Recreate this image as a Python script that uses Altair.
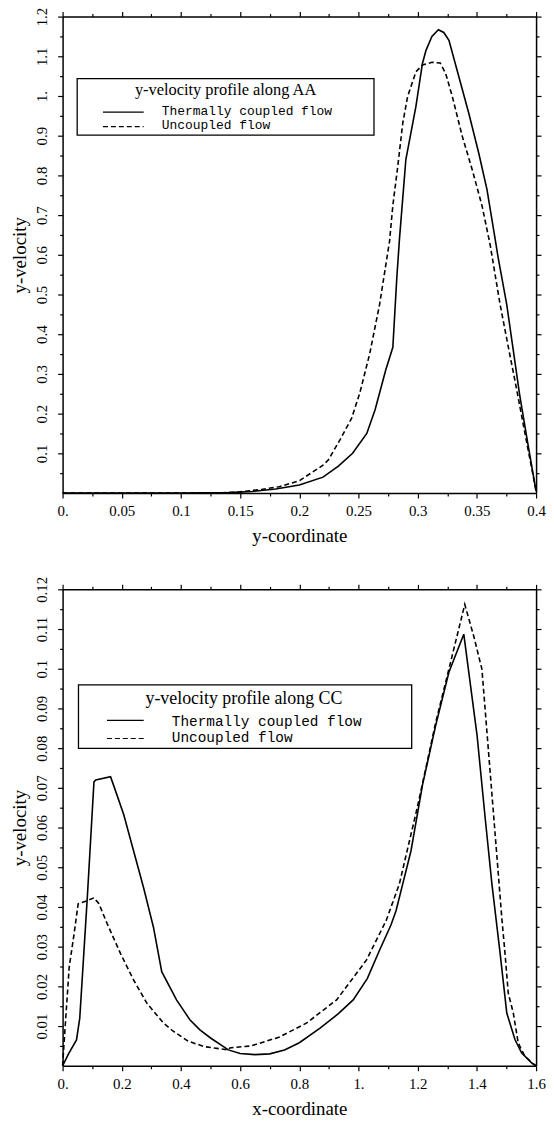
import altair as alt
import pandas as pd

# ---------------- data ----------------
# Panel 1: y-velocity along AA
aa_solid_x = [0.0, 0.05, 0.10, 0.14, 0.16, 0.18, 0.20, 0.22, 0.233, 0.245, 0.257, 0.264, 0.273,
              0.279, 0.2823, 0.2846, 0.290, 0.2985, 0.304, 0.307, 0.312, 0.3175, 0.322, 0.3264,
              0.3347, 0.3431, 0.3515, 0.3585, 0.3654, 0.368, 0.3752, 0.380, 0.386, 0.393, 0.400]
aa_solid_y = [0.0, 0.0, 0.0, 0.001, 0.004, 0.010, 0.020, 0.040, 0.068, 0.100, 0.150, 0.210, 0.310,
              0.367, 0.540, 0.640, 0.840, 0.974, 1.082, 1.115, 1.150, 1.167, 1.160, 1.140,
              1.049, 0.957, 0.857, 0.765, 0.640, 0.592, 0.475, 0.375, 0.250, 0.125, 0.005]
aa_dash_x = [0.0, 0.10, 0.14, 0.15, 0.168, 0.183, 0.20, 0.22, 0.2246, 0.2343, 0.2441, 0.251,
             0.2594, 0.2678, 0.2762, 0.279, 0.2832, 0.2874, 0.2915, 0.2985, 0.304, 0.312, 0.319,
             0.3236, 0.3292, 0.3376, 0.346, 0.3543, 0.3613, 0.364, 0.3696, 0.3766, 0.383, 0.390,
             0.400]
aa_dash_y = [0.0, 0.0, 0.001, 0.003, 0.009, 0.016, 0.031, 0.070, 0.084, 0.134, 0.188, 0.251,
             0.350, 0.475, 0.634, 0.724, 0.824, 0.932, 0.999, 1.061, 1.078, 1.085, 1.083,
             1.057, 0.999, 0.899, 0.815, 0.724, 0.624, 0.575, 0.475, 0.367, 0.270, 0.160,
             0.005]

# Panel 2: y-velocity along CC
cc_solid_x = [0.0, 0.02, 0.047, 0.058, 0.084, 0.106, 0.112, 0.162, 0.173, 0.2065, 0.24, 0.2735,
              0.307, 0.335, 0.385, 0.43, 0.463, 0.50, 0.56, 0.60, 0.65, 0.70, 0.75, 0.80, 0.87,
              0.93, 0.982, 1.03, 1.071, 1.11, 1.127, 1.1495, 1.1772, 1.2164, 1.261, 1.3054,
              1.3557, 1.4005, 1.428, 1.4507, 1.4785, 1.501, 1.5286, 1.551, 1.5846, 1.60]
cc_solid_y = [0.0, 0.003, 0.0065, 0.012, 0.043, 0.0715, 0.072, 0.0728, 0.0705, 0.0633, 0.0541,
              0.0449, 0.0349, 0.0237, 0.0166, 0.0116, 0.0091, 0.0070, 0.0040, 0.0031, 0.0028,
              0.0030, 0.0040, 0.0058, 0.0095, 0.0130, 0.0166, 0.0220, 0.0291, 0.0355, 0.0391,
              0.0458, 0.0541, 0.0708, 0.0858, 0.0991, 0.1087, 0.0833, 0.0624, 0.0458, 0.0283,
              0.0133, 0.0066, 0.00325, 0.00075, 0.0]
cc_dash_x = [0.0, 0.007, 0.0224, 0.039, 0.0526, 0.0837, 0.106, 0.1228, 0.1506, 0.1955, 0.24,
             0.2845, 0.3404, 0.3739, 0.4245, 0.48, 0.56, 0.565, 0.637, 0.731, 0.792, 0.825,
             0.926, 1.0266, 1.0936, 1.138, 1.2, 1.261, 1.311, 1.359, 1.389, 1.417, 1.4393,
             1.4617, 1.484, 1.495, 1.506, 1.523, 1.5397, 1.562, 1.59, 1.60]
cc_dash_y = [0.0, 0.008, 0.0249, 0.0333, 0.0408, 0.0416, 0.0423, 0.0408, 0.0358, 0.0283, 0.0216,
             0.0158, 0.0108, 0.0087, 0.0062, 0.0048, 0.0040, 0.0045, 0.0050, 0.0072, 0.0095,
             0.0108, 0.0166, 0.0266, 0.0366, 0.0458, 0.0655, 0.0865, 0.1016, 0.1162, 0.1083,
             0.0999, 0.0791, 0.0583, 0.0374, 0.0283, 0.0183, 0.0133, 0.00575, 0.0024, 0.0005,
             0.0]

# tick positions
aa_x_major = [0.0, 0.05, 0.1, 0.15, 0.2, 0.25, 0.3, 0.35, 0.4]
aa_x_minor = [0.025, 0.075, 0.125, 0.175, 0.225, 0.275, 0.325, 0.375]
aa_y_major = [0.1, 0.2, 0.3, 0.4, 0.5, 0.6, 0.7, 0.8, 0.9, 1.0, 1.1, 1.2]
aa_y_minor = [0.05, 0.15, 0.25, 0.35, 0.45, 0.55, 0.65, 0.75, 0.85, 0.95, 1.05, 1.15]
cc_x_major = [0.0, 0.2, 0.4, 0.6, 0.8, 1.0, 1.2, 1.4, 1.6]
cc_x_minor = [0.1, 0.3, 0.5, 0.7, 0.9, 1.1, 1.3, 1.5]
cc_y_major = [0.01, 0.02, 0.03, 0.04, 0.05, 0.06, 0.07, 0.08, 0.09, 0.10, 0.11, 0.12]
cc_y_minor = [0.005, 0.015, 0.025, 0.035, 0.045, 0.055, 0.065, 0.075, 0.085, 0.095, 0.105,
              0.115]

# texts
legend_titles = ["y-velocity profile along AA", "y-velocity profile along CC"]
legend_labels = ["Thermally coupled flow", "Uncoupled flow"]
x_titles = ["y-coordinate", "x-coordinate"]
y_title = "y-velocity"

SERIF = "Liberation Serif"
MONO = "Liberation Mono"
W, H = 477, 480


def label_expr(fmt):
    return ("datum.value == 0 ? '0.' : (datum.value == 1 ? '1.' : format(datum.value, '%s'))"
            % fmt)


def panel(sx, sy, ddx, ddy, xdom, ydom, xmaj, xmin, ymaj, ymin, xfmt, yfmt, xtitle,
          ltitle, lay):
    xs = alt.Scale(domain=xdom, nice=False, zero=False)
    ys = alt.Scale(domain=ydom, nice=False, zero=False)
    dfs = pd.DataFrame({"x": sx, "y": sy})
    dfd = pd.DataFrame({"x": ddx, "y": ddy})

    common = dict(grid=False, labelFlush=False, labelOverlap=False)
    ax_b = alt.Axis(orient="bottom", values=xmaj, labelExpr=label_expr(xfmt), title=xtitle,
                    tickSize=5, labelPadding=6, titlePadding=8, **common)
    ax_l = alt.Axis(orient="left", values=ymaj, labelExpr=label_expr(yfmt), title=y_title,
                    tickSize=5, labelPadding=11, labelAngle=270, labelAlign="center",
                    labelBaseline="alphabetic", titlePadding=5, **common)
    ax_t = alt.Axis(orient="top", values=xmaj, labels=False, title=None, tickSize=5, **common)
    ax_r = alt.Axis(orient="right", values=ymaj, labels=False, title=None, tickSize=5, **common)
    ax_bm = alt.Axis(orient="bottom", values=xmin, labels=False, title=None, tickSize=3,
                     domain=False, **common)
    ax_lm = alt.Axis(orient="left", values=ymin, labels=False, title=None, tickSize=3,
                     domain=False, **common)
    ax_tm = alt.Axis(orient="top", values=xmin, labels=False, title=None, tickSize=3,
                     domain=False, **common)
    ax_rm = alt.Axis(orient="right", values=ymin, labels=False, title=None, tickSize=3,
                     domain=False, **common)

    solid = alt.Chart(dfs).mark_line(color="black", strokeWidth=1.6).encode(
        x=alt.X("x:Q", scale=xs, axis=ax_b), y=alt.Y("y:Q", scale=ys, axis=ax_l))
    dashed = alt.Chart(dfd).mark_line(color="black", strokeWidth=1.6, strokeDash=[5, 3]).encode(
        x=alt.X("x:Q", scale=xs, axis=ax_t), y=alt.Y("y:Q", scale=ys, axis=ax_r))
    minor1 = alt.Chart(dfs).mark_line(strokeOpacity=0).encode(
        x=alt.X("x:Q", scale=xs, axis=ax_bm), y=alt.Y("y:Q", scale=ys, axis=ax_lm))
    minor2 = alt.Chart(dfs).mark_line(strokeOpacity=0).encode(
        x=alt.X("x:Q", scale=xs, axis=ax_tm), y=alt.Y("y:Q", scale=ys, axis=ax_rm))

    one = pd.DataFrame({"a": [0]})
    box = alt.Chart(one).mark_rect(fill="white", stroke="black", strokeWidth=1.3).encode(
        x=alt.value(lay["bx0"]), x2=alt.value(lay["bx1"]),
        y=alt.value(lay["by0"]), y2=alt.value(lay["by1"]))
    ttl = alt.Chart(pd.DataFrame({"t": [ltitle]})).mark_text(
        font=SERIF, fontSize=lay["tfs"], align="center", baseline="alphabetic",
        color="black").encode(text="t:N", x=alt.value(lay["tx"]), y=alt.value(lay["ty"]))
    r1 = alt.Chart(one).mark_rule(color="black", strokeWidth=1.2).encode(
        x=alt.value(lay["sx0"]), x2=alt.value(lay["sx1"]), y=alt.value(lay["sy1"]))
    r2 = alt.Chart(one).mark_rule(color="black", strokeWidth=1.2, strokeDash=[5, 3]).encode(
        x=alt.value(lay["sx0"]), x2=alt.value(lay["sx1"]), y=alt.value(lay["sy2"]))
    t1 = alt.Chart(pd.DataFrame({"t": [legend_labels[0]]})).mark_text(
        font=MONO, fontSize=lay["lfs"], align="left", baseline="alphabetic",
        color="black").encode(text="t:N", x=alt.value(lay["lx"]), y=alt.value(lay["ly1"]))
    t2 = alt.Chart(pd.DataFrame({"t": [legend_labels[1]]})).mark_text(
        font=MONO, fontSize=lay["lfs"], align="left", baseline="alphabetic",
        color="black").encode(text="t:N", x=alt.value(lay["lx"]), y=alt.value(lay["ly2"]))

    return alt.layer(solid, dashed, minor1, minor2, box, ttl, r1, r2, t1, t2).resolve_scale(
        x="shared", y="shared").resolve_axis(x="independent", y="independent").properties(
        width=W, height=H)


lay_aa = dict(bx0=14.7, bx1=313.7, by0=62.5, by1=119.5, tx=164.2, ty=79.5, tfs=16.5,
              sx0=40.7, sx1=81.7, sy1=96.2, sy2=110.8, lx=100, ly1=99.5, ly2=113.5, lfs=13)
lay_cc = dict(bx0=16, bx1=351.7, by0=96.3, by1=160.3, tx=182.7, ty=116, tfs=18,
              sx0=44.7, sx1=81.7, sy1=132, sy2=150.3, lx=110, ly1=137.7, ly2=153.7, lfs=14.5)

top = panel(aa_solid_x, aa_solid_y, aa_dash_x, aa_dash_y, [0, 0.4], [0, 1.2],
            aa_x_major, aa_x_minor, aa_y_major, aa_y_minor, ".2~f", ".1~f", x_titles[0],
            legend_titles[0], lay_aa)
bottom = panel(cc_solid_x, cc_solid_y, cc_dash_x, cc_dash_y, [0, 1.6], [0, 0.12],
               cc_x_major, cc_x_minor, cc_y_major, cc_y_minor, ".1~f", ".2~f", x_titles[1],
               legend_titles[1], lay_cc)

chart = alt.vconcat(top, bottom, spacing=30).properties(
    padding={"left": 2, "top": -5.5, "right": 0, "bottom": 0}
).configure_view(stroke=None).configure_axis(
    domainColor="black", domainWidth=1.5, tickColor="black", tickWidth=1.2,
    labelFont=SERIF, labelFontSize=15, labelColor="black",
    titleFont=SERIF, titleFontSize=19, titleFontWeight="normal", titleColor="black"
)

chart.save("out.html", embed_options={"renderer": "svg", "actions": False})
